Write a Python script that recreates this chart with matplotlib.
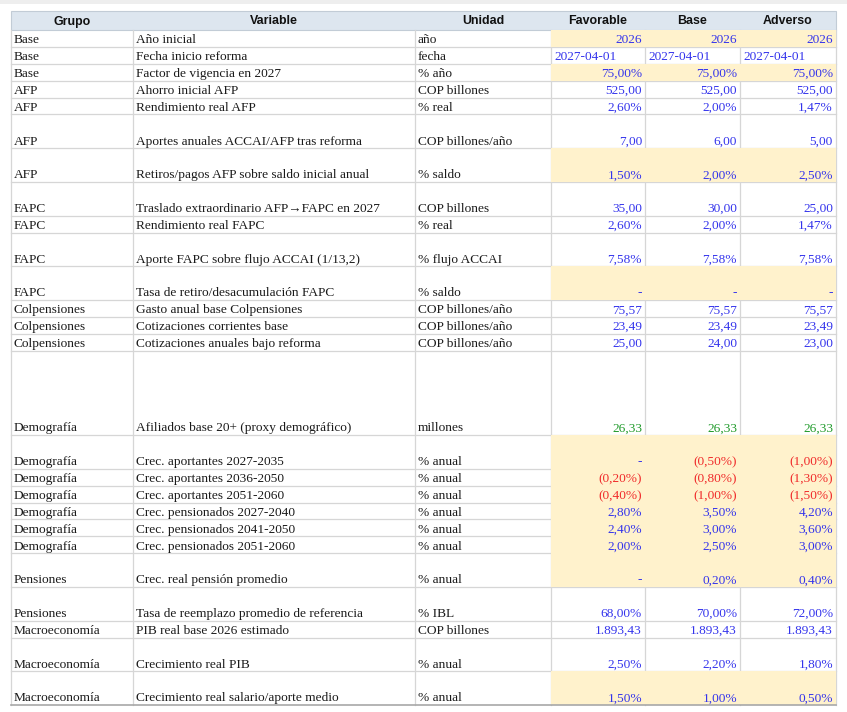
import matplotlib
matplotlib.use("Agg")
import matplotlib.pyplot as plt
from matplotlib.patches import Rectangle

# Datos de la tabla
encabezados = ["Grupo", "Variable", "Unidad", "Favorable", "Base", "Adverso"]

grupos = ["Base", "Base", "Base", "AFP", "AFP", "AFP", "AFP",
          "FAPC", "FAPC", "FAPC", "FAPC",
          "Colpensiones", "Colpensiones", "Colpensiones",
          "Demografía", "Demografía", "Demografía", "Demografía",
          "Demografía", "Demografía", "Demografía",
          "Pensiones", "Pensiones",
          "Macroeconomía", "Macroeconomía", "Macroeconomía"]

variables = ["Año inicial",
             "Fecha inicio reforma",
             "Factor de vigencia en 2027",
             "Ahorro inicial AFP",
             "Rendimiento real AFP",
             "Aportes anuales ACCAI/AFP tras reforma",
             "Retiros/pagos AFP sobre saldo inicial anual",
             "Traslado extraordinario AFP→FAPC en 2027",
             "Rendimiento real FAPC",
             "Aporte FAPC sobre flujo ACCAI (1/13,2)",
             "Tasa de retiro/desacumulación FAPC",
             "Gasto anual base Colpensiones",
             "Cotizaciones corrientes base",
             "Cotizaciones anuales bajo reforma",
             "Afiliados base 20+ (proxy demográfico)",
             "Crec. aportantes 2027-2035",
             "Crec. aportantes 2036-2050",
             "Crec. aportantes 2051-2060",
             "Crec. pensionados 2027-2040",
             "Crec. pensionados 2041-2050",
             "Crec. pensionados 2051-2060",
             "Crec. real pensión promedio",
             "Tasa de reemplazo promedio de referencia",
             "PIB real base 2026 estimado",
             "Crecimiento real PIB",
             "Crecimiento real salario/aporte medio"]

unidades = ["año", "fecha", "% año", "COP billones", "% real",
            "COP billones/año", "% saldo", "COP billones", "% real",
            "% flujo ACCAI", "% saldo", "COP billones/año",
            "COP billones/año", "COP billones/año", "millones",
            "% anual", "% anual", "% anual", "% anual", "% anual",
            "% anual", "% anual", "% IBL", "COP billones", "% anual",
            "% anual"]

favorable = [2026, "2027-04-01", 0.75, 525.00, 0.026, 7.00, 0.015, 35.00,
             0.026, 0.0758, 0.0, 75.57, 23.49, 25.00, 26.33, 0.0, -0.002,
             -0.004, 0.028, 0.024, 0.020, 0.0, 0.68, 1893.43, 0.025, 0.015]
base = [2026, "2027-04-01", 0.75, 525.00, 0.020, 6.00, 0.020, 30.00,
        0.020, 0.0758, 0.0, 75.57, 23.49, 24.00, 26.33, -0.005, -0.008,
        -0.010, 0.035, 0.030, 0.025, 0.002, 0.70, 1893.43, 0.022, 0.010]
adverso = [2026, "2027-04-01", 0.75, 525.00, 0.0147, 5.00, 0.025, 25.00,
           0.0147, 0.0758, 0.0, 75.57, 23.49, 23.00, 26.33, -0.010, -0.013,
           -0.015, 0.042, 0.036, 0.030, 0.004, 0.72, 1893.43, 0.018, 0.005]

# filas con celdas de supuesto (fondo amarillo)
resaltadas = [0, 2, 6, 10, 15, 16, 17, 18, 19, 20, 21, 25]
# filas con valores calculados (verde)
calculadas = [14]

# alto de cada fila en unidades de fila
alto_filas = [1, 1, 1, 1, 1, 2, 2, 2, 1, 2, 2, 1, 1, 1, 5,
              2, 1, 1, 1, 1, 1, 2, 2, 1, 2, 2]

# Layout (pixeles)
col_x = [11, 133, 415, 551, 645, 740, 836]
y_head0, y_head1, y_fin = 11, 30, 705
unidad_px = (y_fin - y_head1) / sum(alto_filas)

AZUL = "#3434ec"
ROJO = "#f02a2a"
VERDE = "#1f9a2a"
AMARILLO = "#fff2cc"
GRIS = "#d6d6d6"
NEGRO = "#1a1a1a"
SERIF = ["Liberation Serif", "DejaVu Serif"]
SANS = ["Liberation Sans", "DejaVu Sans"]
FS = 9.6


def num_es(v, dec=2):
    s = f"{abs(v):,.{dec}f}"
    return s.replace(",", "X").replace(".", ",").replace("X", ".")


def formato(v, unidad):
    if isinstance(v, str):
        return v, AZUL
    if unidad == "año":
        return f"{v:d}", AZUL
    if unidad.startswith("%"):
        if v == 0:
            return "-", AZUL
        s = num_es(v * 100) + "%"
        if v < 0:
            return "(" + s + ")", ROJO
        return s, AZUL
    return num_es(v), AZUL


fig = plt.figure(figsize=(8.47, 7.12), dpi=100)
ax = fig.add_axes([0, 0, 1, 1])
ax.set_xlim(0, 847)
ax.set_ylim(712, 0)
ax.axis("off")

# sombra superior
ax.add_patch(Rectangle((0, 0), 847, 4, color="#eeeeee", lw=0))

# encabezado
ax.add_patch(Rectangle((col_x[0], y_head0), col_x[-1] - col_x[0],
                       y_head1 - y_head0, facecolor="#dde6ef",
                       edgecolor="#c2ccd6", lw=0.8))
for i, h in enumerate(encabezados):
    xc = (col_x[i] + col_x[i + 1]) / 2
    ax.text(xc, 24.5, h, ha="center", va="baseline", fontsize=8.9,
            fontweight="bold", family=SANS, color="#111111")

# limites de filas
bordes = [y_head1]
for a in alto_filas:
    bordes.append(bordes[-1] + a * unidad_px)

# rejilla
for y in bordes[1:-1]:
    ax.plot([col_x[0], col_x[-1]], [y, y], color=GRIS, lw=0.9)
for x in col_x:
    ax.plot([x, x], [y_head1, y_fin], color=GRIS, lw=0.9)

# celdas resaltadas
for r in resaltadas:
    ax.add_patch(Rectangle((col_x[3], bordes[r]), col_x[6] - col_x[3],
                           bordes[r + 1] - bordes[r], facecolor=AMARILLO,
                           lw=0, zorder=2))

ax.plot([col_x[0], col_x[-1]], [y_fin, y_fin], color="#a8a8a8", lw=1.2,
        zorder=3)

# textos
for r in range(len(grupos)):
    yb = bordes[r + 1] - 3.6
    ax.text(col_x[0] + 3, yb, grupos[r], ha="left", va="baseline",
            fontsize=FS, family=SERIF, color=NEGRO, zorder=4)
    ax.text(col_x[1] + 3, yb, variables[r], ha="left", va="baseline",
            fontsize=FS, family=SERIF, color=NEGRO, zorder=4)
    ax.text(col_x[2] + 3, yb, unidades[r], ha="left", va="baseline",
            fontsize=FS, family=SERIF, color=NEGRO, zorder=4)
    for c, serie in enumerate([favorable, base, adverso]):
        v = serie[r]
        s, col = formato(v, unidades[r])
        if r in calculadas:
            col = VERDE
        if isinstance(v, str):
            ax.text(col_x[3 + c] + 3, yb, s, ha="left", va="baseline",
                    fontsize=FS, family=SERIF, color=col, zorder=4)
        else:
            ax.text(col_x[4 + c] - 3, yb, s, ha="right", va="baseline",
                    fontsize=FS, family=SERIF, color=col, zorder=4)

fig.savefig("out.png", dpi=100)
